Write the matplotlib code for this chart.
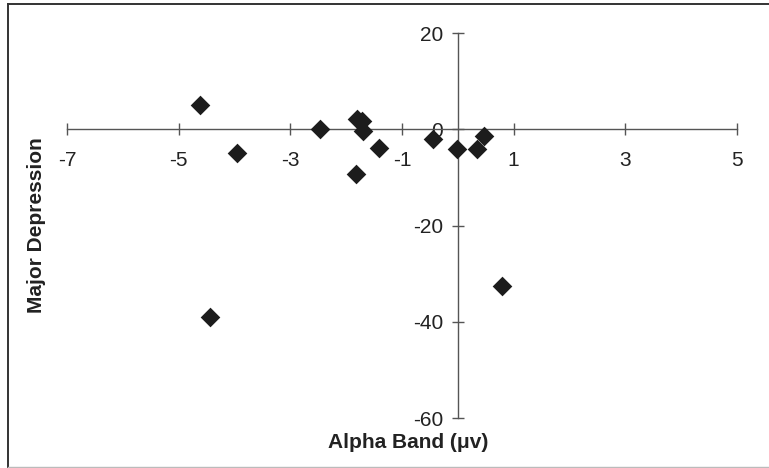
import matplotlib.pyplot as plt
from matplotlib.lines import Line2D

plt.rcParams['font.family'] = ['Liberation Sans', 'DejaVu Sans']

# Alpha band change (uV) against change in major depression score
alpha_band = [-4.62, -3.95, -4.44, -2.46, -1.81, -1.72, -1.69, -1.41,
              -1.82, -0.45, -0.02, 0.35, 0.47, 0.79]
depression = [5.1, -4.9, -39.1, 0.0, 2.2, 1.8, -0.3, -3.9,
              -9.2, -2.0, -4.1, -4.1, -1.3, -32.6]

x_ticks = [-7, -5, -3, -1, 1, 3, 5]
y_ticks = [-60, -40, -20, 0, 20]

W, H = 769, 468
fig = plt.figure(figsize=(W / 100, H / 100), dpi=100)
ax = fig.add_axes([67 / W, 1 - 418 / H, 670 / W, 385 / H])

axis_col = '#555555'
ax.scatter(alpha_band, depression, marker='D', s=100, color='#1c1c1c',
           zorder=3, linewidths=0)

ax.set_xlim(-7, 5)
ax.set_ylim(-60, 20)
ax.spines['left'].set_position(('data', 0))
ax.spines['bottom'].set_position(('data', 0))
ax.spines['top'].set_visible(False)
ax.spines['right'].set_visible(False)
for s in ('left', 'bottom'):
    ax.spines[s].set_color(axis_col)
    ax.spines[s].set_linewidth(1.0)

ax.set_xticks(x_ticks)
ax.set_yticks(y_ticks)
ax.set_xticklabels([str(v) for v in x_ticks])
ax.set_yticklabels([str(v) for v in y_ticks])
ax.tick_params(axis='x', direction='inout', length=9, width=1,
               color=axis_col, labelsize=15, pad=11, labelcolor='#222222')
ax.tick_params(axis='y', direction='inout', length=9, width=1,
               color=axis_col, labelsize=15, pad=6, labelcolor='#222222')

fig.text(408 / W, 1 - 442 / H, 'Alpha Band (\u03bcv)', ha='center',
         va='center', fontsize=15, fontweight='bold', color='#222222')
fig.text(37 / W, 1 - 225 / H, 'Major Depression', ha='center', va='center',
         rotation=90, fontsize=15, fontweight='bold', color='#222222')

# outer chart border (right edge lies outside the image)
left, top, bottom = 8 / W, 1 - 4 / H, 1 - 466.5 / H
fig.lines.append(Line2D([left, left], [bottom, top], transform=fig.transFigure,
                        color='#333333', linewidth=1.4))
fig.lines.append(Line2D([left, 1.0], [top, top], transform=fig.transFigure,
                        color='#333333', linewidth=1.4))
fig.lines.append(Line2D([left, 1.0], [bottom, bottom],
                        transform=fig.transFigure, color='#bbbbbb',
                        linewidth=1.0))

fig.savefig('out.png', dpi=100)
